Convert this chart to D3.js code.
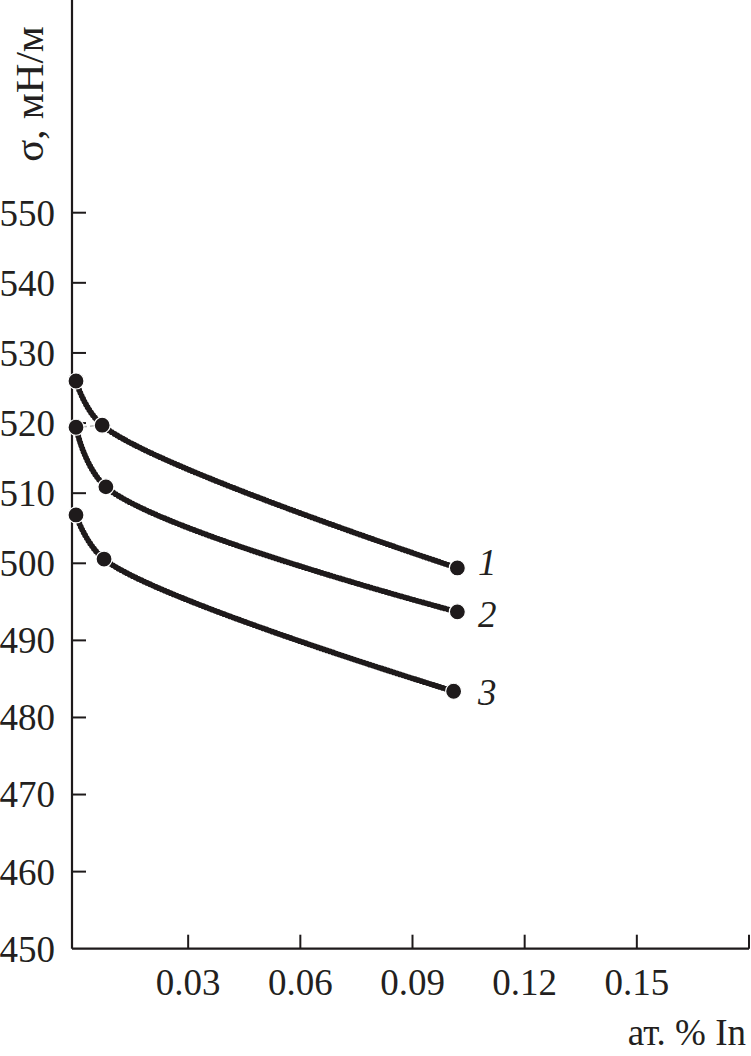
<!DOCTYPE html>
<html>
<head>
<meta charset="utf-8">
<script src="https://cdn.jsdelivr.net/npm/d3@7"></script>
<style>
  body { margin: 0; background: #fff; }
  svg { display: block; }
  text { font-family: "Liberation Serif", "Times New Roman", serif; fill: #231f20; }
</style>
</head>
<body>
<div id="chart"></div>
<script>
// values: surface tension vs In content
var xTicks = [0.03, 0.06, 0.09, 0.12, 0.15];
var yTicks = [450, 460, 470, 480, 490, 500, 510, 520, 530, 540, 550];
var curveNames = ["1", "2", "3"];
var xVals1 = [0, 0.007, 0.102];
var yVals1 = [526.0, 519.7, 499.4];
var xVals2 = [0, 0.008, 0.102];
var yVals2 = [519.4, 510.9, 493.7];
var xVals3 = [0, 0.0075, 0.101];
var yVals3 = [506.9, 500.6, 483.4];

var W = 751, H = 1056;
var ink = "#1e1a1b";

var svg = d3.select("#chart").append("svg")
  .attr("width", W)
  .attr("height", H);

var x = d3.scaleLinear().domain([0, 0.18]).range([76, 749]);
// the printed axis is not quite even, so two pieces
var y = d3.scaleLinear().domain([450, 500, 550]).range([948.7, 563.3, 212.7]);

var axisX0 = 72, axisY0 = 948.7;

// axes lines
svg.append("line")
  .attr("x1", axisX0).attr("y1", 0)
  .attr("x2", axisX0).attr("y2", axisY0)
  .attr("stroke", ink).attr("stroke-width", 2.2);
svg.append("line")
  .attr("x1", axisX0).attr("y1", axisY0)
  .attr("x2", 749).attr("y2", axisY0)
  .attr("stroke", ink).attr("stroke-width", 2.2);

// y ticks (inside, to the right)
var gy = svg.append("g");
gy.selectAll("line").data(yTicks.filter(function(d){ return d > 450; }))
  .enter().append("line")
  .attr("x1", axisX0).attr("x2", axisX0 + 14)
  .attr("y1", function(d){ return y(d); })
  .attr("y2", function(d){ return y(d); })
  .attr("stroke", ink).attr("stroke-width", 2);
gy.selectAll("text").data(yTicks)
  .enter().append("text")
  .attr("x", 55)
  .attr("y", function(d){ return y(d); })
  .attr("dy", "0.35em")
  .attr("text-anchor", "end")
  .style("font-size", "37px")
  .text(function(d){ return d; });

// x ticks (inside, upward)
var gx = svg.append("g");
gx.selectAll("line").data(xTicks.concat([0.18]))
  .enter().append("line")
  .attr("x1", function(d){ return x(d); })
  .attr("x2", function(d){ return x(d); })
  .attr("y1", axisY0).attr("y2", axisY0 - 14)
  .attr("stroke", ink).attr("stroke-width", 2);
gx.selectAll("text").data(xTicks)
  .enter().append("text")
  .attr("x", function(d){ return x(d); })
  .attr("y", 995)
  .attr("text-anchor", "middle")
  .style("font-size", "37px")
  .text(function(d){ return d3.format(".2f")(d); });

// axis titles
svg.append("text")
  .attr("x", 746).attr("y", 1045)
  .attr("text-anchor", "end")
  .style("font-size", "37px")
  .text("ат. % In");

svg.append("text")
  .attr("transform", "translate(43,94) rotate(-90)")
  .attr("text-anchor", "middle")
  .style("font-size", "41px")
  .text("σ, мН/м");

// series
var series = [
  { name: curveNames[0], xs: xVals1, ys: yVals1 },
  { name: curveNames[1], xs: xVals2, ys: yVals2 },
  { name: curveNames[2], xs: xVals3, ys: yVals3 }
];
series.forEach(function(s){
  s.pts = s.xs.map(function(v, i){ return [v, s.ys[i]]; });
});

var line = d3.line()
  .x(function(d){ return x(d[0]); })
  .y(function(d){ return y(d[1]); })
  .curve(d3.curveCatmullRom.alpha(0.5));

// faint dashed connector near the left
svg.append("line")
  .attr("x1", x(series[1].pts[0][0])).attr("y1", y(series[1].pts[0][1]))
  .attr("x2", x(series[0].pts[1][0])).attr("y2", y(series[0].pts[1][1]))
  .attr("stroke", "#b5b5b5").attr("stroke-width", 1.5)
  .attr("stroke-dasharray", "4 3");

var gs = svg.append("g");
series.forEach(function(s){
  gs.append("path")
    .attr("d", line(s.pts))
    .attr("fill", "none")
    .attr("stroke", ink)
    .attr("stroke-width", 4.6);
  // beaded edge like the printed curves
  gs.append("path")
    .attr("d", line(s.pts))
    .attr("fill", "none")
    .attr("stroke", ink)
    .attr("stroke-width", 5.8)
    .attr("stroke-linecap", "round")
    .attr("stroke-dasharray", "0 3.2");

  gs.selectAll(null).data(s.pts)
    .enter().append("circle")
    .attr("cx", function(d){ return x(d[0]); })
    .attr("cy", function(d){ return y(d[1]); })
    .attr("r", 8)
    .attr("fill", ink)
    .attr("stroke", "#fff")
    .attr("stroke-width", 1.2);
});

// curve numbers
var labelBase = [575, 627, 705];
svg.selectAll(".num").data(series)
  .enter().append("text")
  .attr("class", "num")
  .attr("x", 478)
  .attr("y", function(d, i){ return labelBase[i]; })
  .style("font-size", "37px")
  .style("font-style", "italic")
  .text(function(d){ return d.name; });
</script>
</body>
</html>
